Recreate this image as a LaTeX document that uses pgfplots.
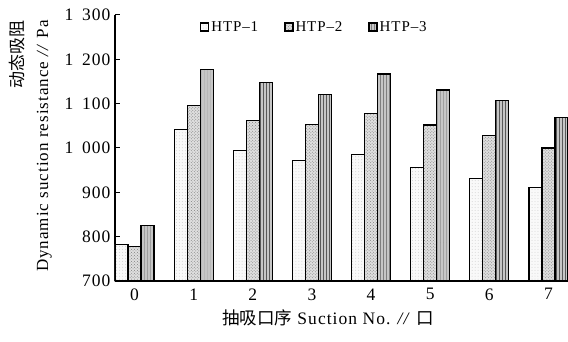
\documentclass[border=0pt]{standalone}
\usepackage{fontspec}
\setmainfont{Liberation Serif}[LetterSpace=6]
\newfontfamily\cjk{Noto Sans CJK SC}
\usepackage{pgfplots}
\pgfplotsset{compat=1.18}
\usetikzlibrary{patterns}
\pgfplotsset{
  mybar/.style={ybar, bar width=0.22, draw=black, line width=1.2bp,
    legend image code/.code={\draw[##1,/tikz/.cd,line width=1.3bp] (0bp,-4bp) rectangle (8bp,4bp);}},
}
\begin{document}
\begin{tikzpicture}
\begin{axis}[
  name=ax, scale only axis, width=453bp, height=266bp,
  xmin=-0.33, xmax=7.33, ymin=700, ymax=1300,
  axis lines=left, axis line style={-, line width=1.4bp},
  xtick={0,...,7}, x tick style={draw=none},
  ytick={700,800,...,1300}, tick align=inside, y tick style={line width=1bp, black}, major tick length=5bp,
  /pgf/number format/.cd, 1000 sep={\enspace}, assume math mode=true, /pgfplots/.cd,
  tick label style={font=\fontsize{17.5bp}{17bp}\selectfont},
  yticklabel style={xshift=-1bp},
  xticklabel style={yshift=-4bp},
  xlabel={{\cjk 抽吸口序} Suction No. \textit{//} {\cjk 口}},
  xlabel style={font=\fontsize{17.5bp}{20bp}\selectfont, at={(axis description cs:0.47,-0.137)}, anchor=center},
  ylabel={{\cjk 动态吸阻}\\Dynamic suction resistance \textit{//} Pa},
  ylabel style={font=\fontsize{17bp}{25bp}\selectfont, align=right, at={(axis description cs:-0.139,0.981)}, anchor=south east, inner sep=0pt},
  legend style={at={(axis description cs:0.44,0.955)}, anchor=center, draw=none, fill=none,
    font=\fontsize{15bp}{15bp}\selectfont, legend columns=3,
    /tikz/every even column/.append style={column sep=24bp}},
  clip=true,
]
\addplot[mybar, bar shift=-0.22, fill=gray!5, postaction={pattern=dots, pattern color=gray!35}] coordinates {
 (0,783) (1,1041) (2,994) (3,971) (4,986) (5,956) (6,932) (7,911)};
\addplot[mybar, bar shift=0, fill=gray!25, postaction={pattern=crosshatch dots, pattern color=gray}] coordinates {
 (0,777) (1,1095) (2,1062) (3,1053) (4,1077) (5,1052) (6,1029) (7,1000)};
\addplot[mybar, bar shift=0.22, fill=gray!45, postaction={pattern=vertical lines, pattern color=gray!70!black}] coordinates {
 (0,826) (1,1177) (2,1147) (3,1120) (4,1167) (5,1131) (6,1108) (7,1069)};
\legend{HTP–1, HTP–2, HTP–3}
\end{axis}
\pgfresetboundingbox
\path[use as bounding box] ([shift={(-115bp,-61bp)}]ax.south west) rectangle ([shift={(0bp,15bp)}]ax.north east);
\end{tikzpicture}
\end{document}
